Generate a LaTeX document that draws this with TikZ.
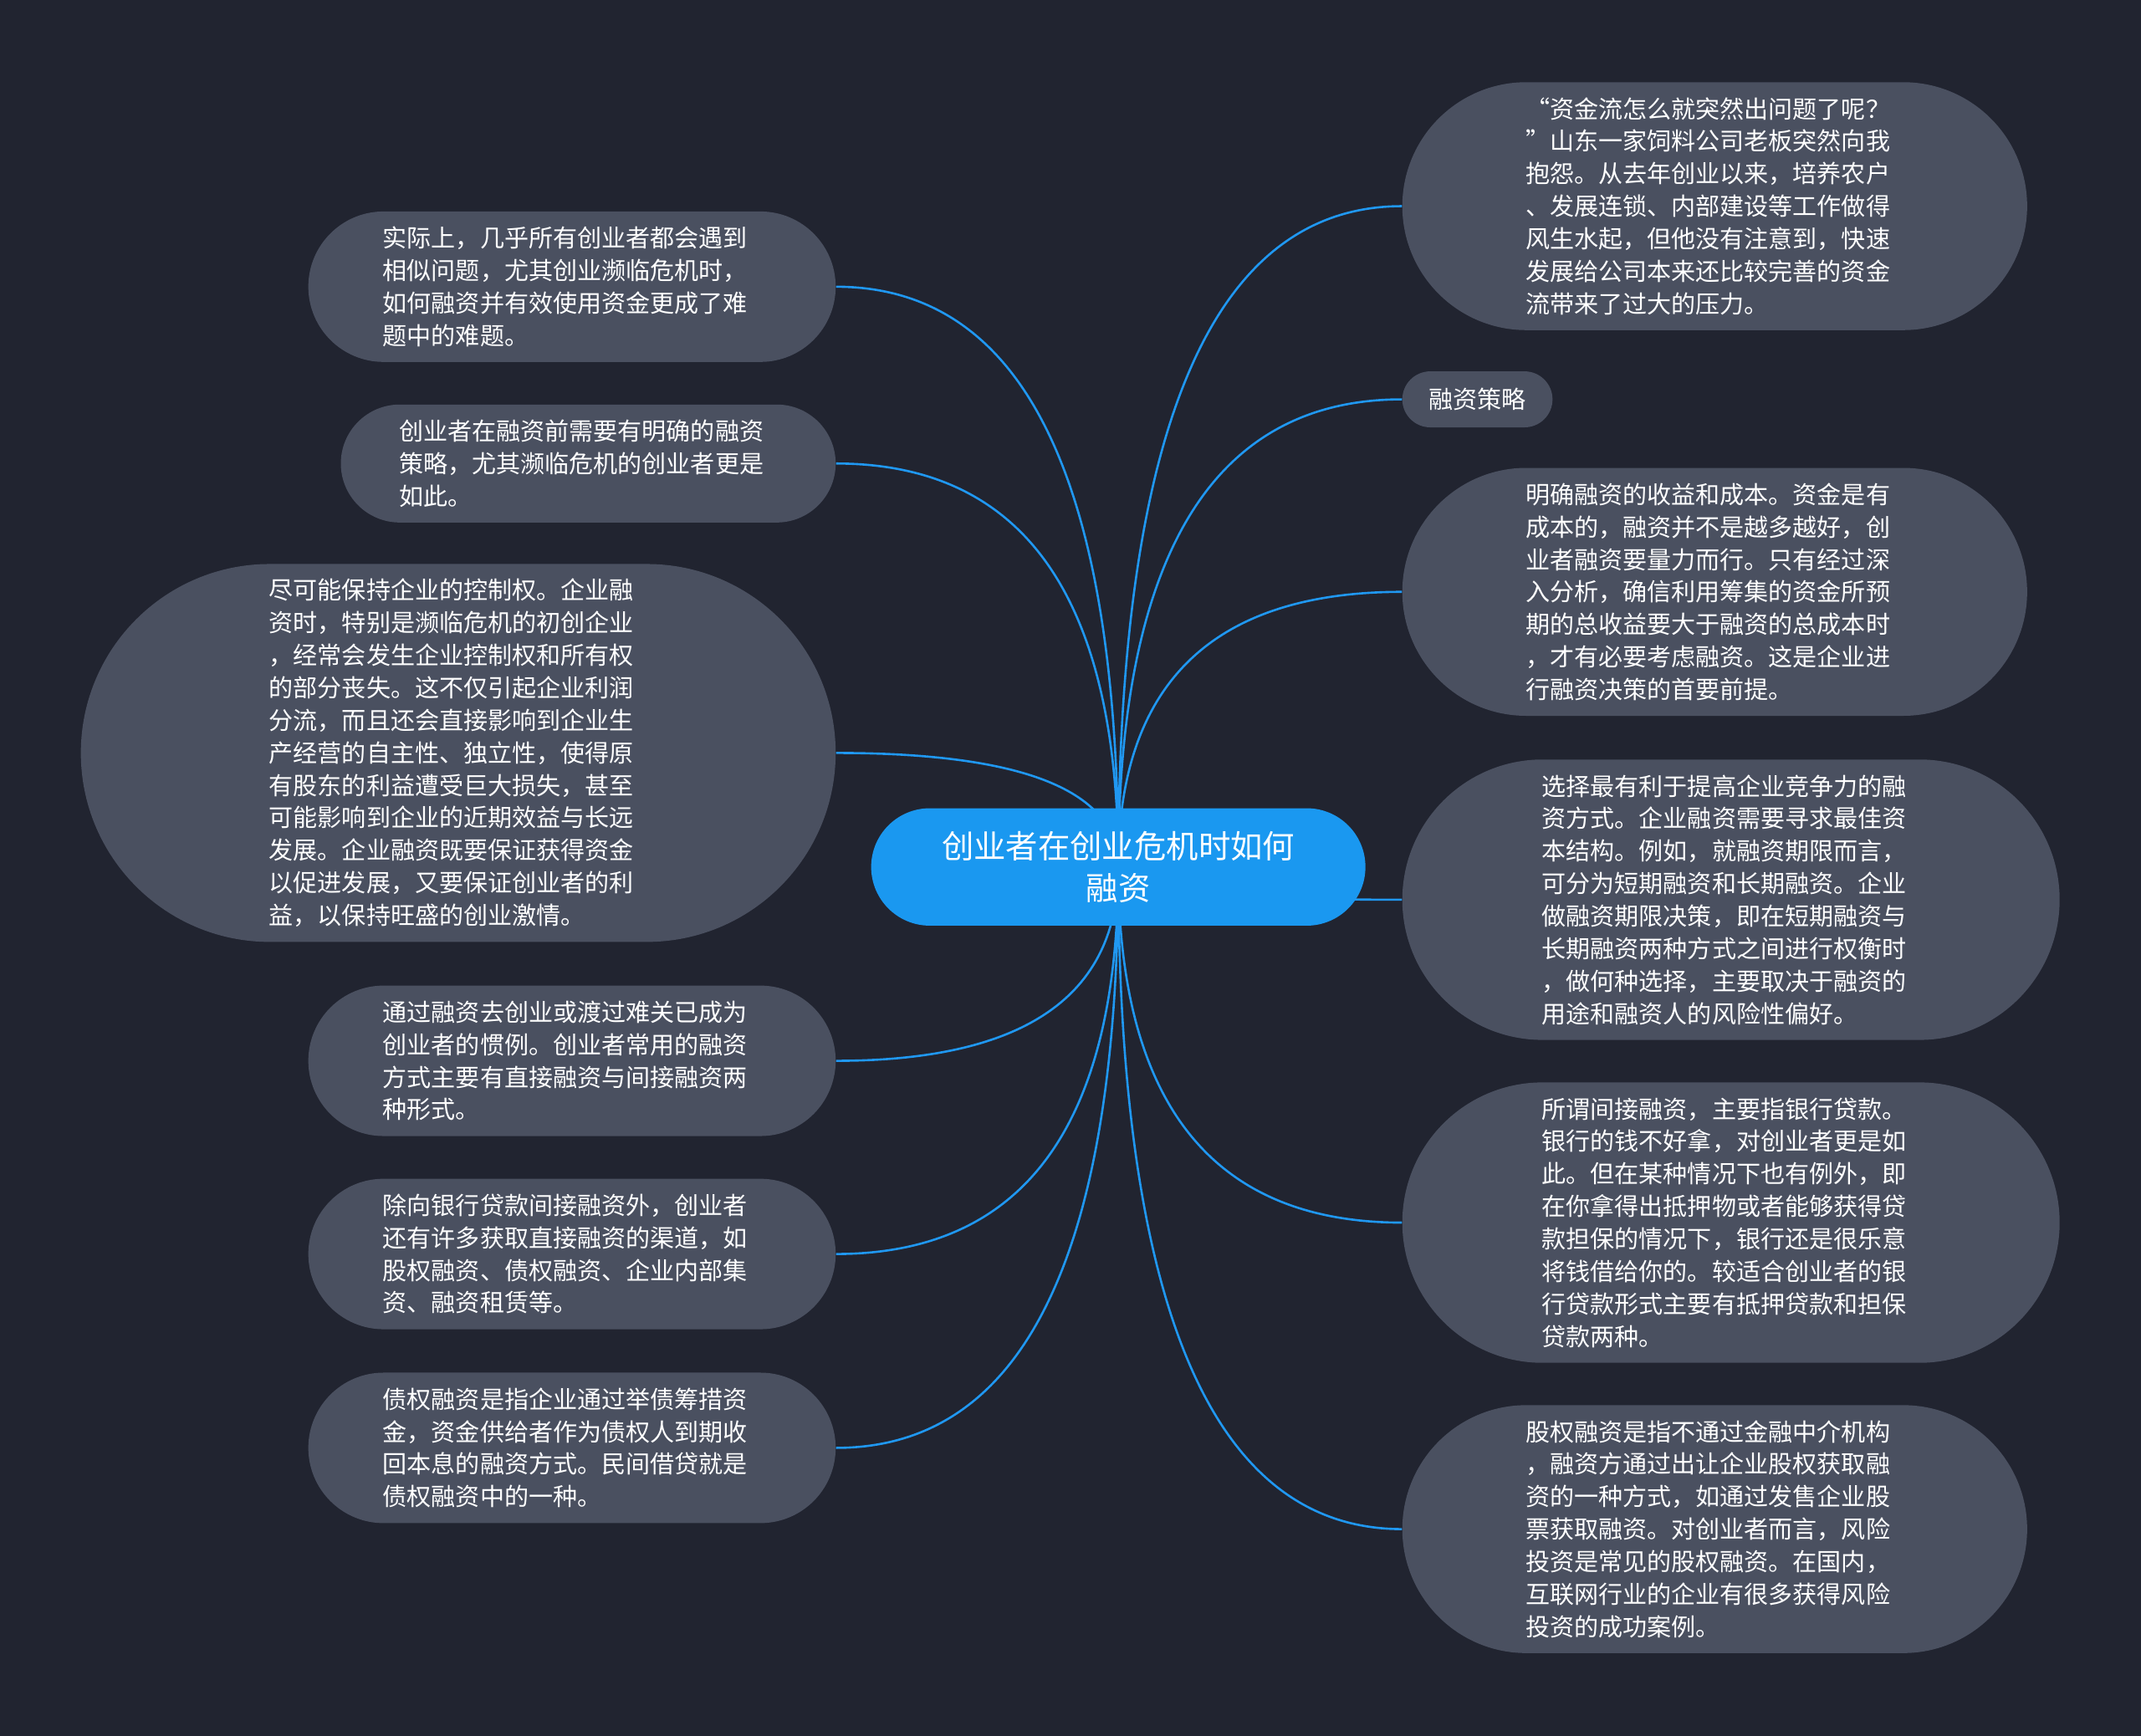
\documentclass[tikz,border=0pt]{standalone}
\usepackage{fontspec}
\setmainfont{Noto Sans CJK SC}
\usetikzlibrary{calc}
\definecolor{bgc}{RGB}{33,36,48}
\definecolor{nodec}{RGB}{74,80,96}
\definecolor{rootc}{RGB}{26,152,240}
\definecolor{linkc}{RGB}{32,152,242}
\pgfdeclarelayer{back}
\pgfsetlayers{back,main}
\newcommand\bodyfont{\fontsize{17.8pt}{23.8pt}\selectfont}
\newcommand\rootfont{\fontsize{23.5pt}{31pt}\selectfont}
\newcommand\mmlink[2]{\draw[link] (#1.center) .. controls ($(#1.center)!0.6667!(#1.center |- #2)$) and ($(#2)!0.6667!(#1.center |- #2)$) .. (#2);}
\tikzset{
  topic/.style={fill=nodec, text=white, font=\bodyfont, align=left, text width=277pt, inner sep=0pt},
  tthree/.style={topic, minimum width=362.4pt, minimum height=86.4pt, rounded corners=43.2pt},
  tfour/.style={topic, minimum width=386.2pt, minimum height=110.2pt, rounded corners=55.1pt},
  tseven/.style={topic, minimum width=457.6pt, minimum height=181.6pt, rounded corners=90.8pt},
  teight/.style={topic, minimum width=481.4pt, minimum height=205.4pt, rounded corners=102.7pt},
  televen/.style={topic, minimum width=552.8pt, minimum height=276.8pt, rounded corners=138.4pt},
  smalltopic/.style={fill=nodec, text=white, font=\bodyfont, inner sep=0pt, minimum width=110pt, minimum height=41pt, rounded corners=20.5pt},
  rootbox/.style={fill=rootc, text=white, font=\rootfont, align=center, inner sep=0pt, minimum width=362pt, minimum height=86pt, rounded corners=43pt},
  link/.style={draw=linkc, line width=1.6pt}
}
\begin{document}
\begin{tikzpicture}[x=1pt,y=-1pt]
\useasboundingbox (0,0) rectangle (1568,1271);

\node[rootbox] (c) at (819,635) {创业者在创业危机时如何\\融资};

% left
\node[tfour] (l1) at (418.9,210) {实际上，几乎所有创业者都会遇到\\相似问题，尤其创业濒临危机时，\\如何融资并有效使用资金更成了难\\题中的难题。};
\node[tthree] (l2) at (430.8,339.5) {创业者在融资前需要有明确的融资\\策略，尤其濒临危机的创业者更是\\如此。};
\node[televen] (l3) at (335.6,551.5) {尽可能保持企业的控制权。企业融\\资时，特别是濒临危机的初创企业\\，经常会发生企业控制权和所有权\\的部分丧失。这不仅引起企业利润\\分流，而且还会直接影响到企业生\\产经营的自主性、独立性，使得原\\有股东的利益遭受巨大损失，甚至\\可能影响到企业的近期效益与长远\\发展。企业融资既要保证获得资金\\以促进发展，又要保证创业者的利\\益，以保持旺盛的创业激情。};
\node[tfour] (l4) at (418.9,777) {通过融资去创业或渡过难关已成为\\创业者的惯例。创业者常用的融资\\方式主要有直接融资与间接融资两\\种形式。};
\node[tfour] (l5) at (418.9,918.5) {除向银行贷款间接融资外，创业者\\还有许多获取直接融资的渠道，如\\股权融资、债权融资、企业内部集\\资、融资租赁等。};
\node[tfour] (l6) at (418.9,1060.5) {债权融资是指企业通过举债筹措资\\金，资金供给者作为债权人到期收\\回本息的融资方式。民间借贷就是\\债权融资中的一种。};

% right
\node[tseven] (r1) at (1255.8,151) {“资金流怎么就突然出问题了呢？\\”山东一家饲料公司老板突然向我\\抱怨。从去年创业以来，培养农户\\、发展连锁、内部建设等工作做得\\风生水起，但他没有注意到，快速\\发展给公司本来还比较完善的资金\\流带来了过大的压力。};
\node[smalltopic] (r2) at (1082,292.5) {融资策略};
\node[tseven] (r3) at (1255.8,433.5) {明确融资的收益和成本。资金是有\\成本的，融资并不是越多越好，创\\业者融资要量力而行。只有经过深\\入分析，确信利用筹集的资金所预\\期的总收益要大于融资的总成本时\\，才有必要考虑融资。这是企业进\\行融资决策的首要前提。};
\node[teight] (r4) at (1267.7,659) {选择最有利于提高企业竞争力的融\\资方式。企业融资需要寻求最佳资\\本结构。例如，就融资期限而言，\\可分为短期融资和长期融资。企业\\做融资期限决策，即在短期融资与\\长期融资两种方式之间进行权衡时\\，做何种选择，主要取决于融资的\\用途和融资人的风险性偏好。};
\node[teight] (r5) at (1267.7,895.5) {所谓间接融资，主要指银行贷款。\\银行的钱不好拿，对创业者更是如\\此。但在某种情况下也有例外，即\\在你拿得出抵押物或者能够获得贷\\款担保的情况下，银行还是很乐意\\将钱借给你的。较适合创业者的银\\行贷款形式主要有抵押贷款和担保\\贷款两种。};
\node[tseven] (r6) at (1255.8,1120) {股权融资是指不通过金融中介机构\\，融资方通过出让企业股权获取融\\资的一种方式，如通过发售企业股\\票获取融资。对创业者而言，风险\\投资是常见的股权融资。在国内，\\互联网行业的企业有很多获得风险\\投资的成功案例。};

\begin{pgfonlayer}{back}
  \fill[bgc] (-6,-6) rectangle (1574,1277);
  \mmlink{c}{l1.east}
  \mmlink{c}{l2.east}
  \mmlink{c}{l3.east}
  \mmlink{c}{l4.east}
  \mmlink{c}{l5.east}
  \mmlink{c}{l6.east}
  \mmlink{c}{r1.west}
  \mmlink{c}{r2.west}
  \mmlink{c}{r3.west}
  \mmlink{c}{r4.west}
  \mmlink{c}{r5.west}
  \mmlink{c}{r6.west}
\end{pgfonlayer}
\end{tikzpicture}
\end{document}
